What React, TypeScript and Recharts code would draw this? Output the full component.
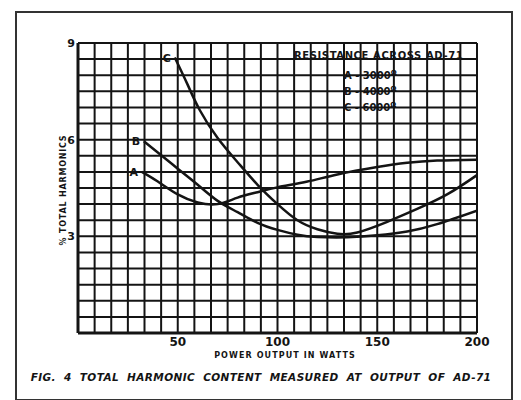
import { LineChart, Line, XAxis, YAxis, CartesianGrid } from 'recharts';

// curve A: 3000 ohm
const aWatts = [32, 40, 50, 60, 70, 80, 90, 100, 115, 130, 150, 165, 180, 200];
const aPct = [5.0, 4.7, 4.3, 4.05, 4.0, 4.2, 4.37, 4.52, 4.7, 4.92, 5.15, 5.28, 5.35, 5.38];

// curve B: 4000 ohm
const bWatts = [33, 40, 50, 60, 70, 80, 90, 100, 110, 120, 135, 150, 165, 180, 200];
const bPct = [5.95, 5.6, 5.1, 4.6, 4.1, 3.75, 3.42, 3.2, 3.05, 2.98, 2.97, 3.03, 3.15, 3.38, 3.8];

// curve C: 6000 ohm
const cWatts = [48.5, 55, 61, 70, 80, 90, 100, 110, 120, 130, 140, 155, 170, 185, 200];
const cPct = [8.55, 7.7, 6.92, 6.05, 5.3, 4.6, 4.0, 3.5, 3.22, 3.08, 3.12, 3.45, 3.85, 4.3, 4.9];

const xLabels = [50, 100, 150, 200];
const yLabels = [3, 6, 9];
const legendLines = ['A - 3000', 'B - 4000', 'C - 6000'];

// graph paper: 24 columns, 18 rows
const gridWatts = Array.from({ length: 25 }, (_, i) => (i * 200) / 24);
const gridPct = Array.from({ length: 19 }, (_, i) => i * 0.5);

const toPoints = (ws: number[], ps: number[]) => ws.map((w, i) => ({ w, pct: ps[i] }));

const ink = '#141414';
const font = '"DejaVu Sans", sans-serif';

const XTick = ({ x, y, payload }: any) =>
  xLabels.includes(payload.value) ? (
    <text x={x} y={y + 13} textAnchor="middle" fontSize={12} fontWeight="bold" fontFamily={font} fill={ink}>
      {payload.value}
    </text>
  ) : null;

const YTick = ({ x, y, payload }: any) =>
  yLabels.includes(payload.value) ? (
    <text x={x - 3} y={y + 4} textAnchor="end" fontSize={11} fontWeight="bold" fontFamily={font} fill={ink}>
      {payload.value}
    </text>
  ) : null;

const curveLabel = (name: string) => (props: any) =>
  props.index === 0 ? (
    <text x={props.x - 8} y={props.y + 4} textAnchor="middle" fontSize={11} fontWeight="bold" fontFamily={font} fill={ink}>
      {name}
    </text>
  ) : null;

export default function App() {
  return (
    <div style={{ position: 'absolute', left: 0, top: 0, width: 521, height: 400, background: '#fff', overflow: 'hidden' }}>
      {/* page frame */}
      <div style={{ position: 'absolute', left: 15, top: 11, width: 494, height: 386, border: '2px solid #333' }} />

      <LineChart width={521} height={400} data={[]} margin={{ top: 43, right: 44, left: 58, bottom: 37 }} style={{ position: 'absolute', left: 0, top: 0 }}>
        <CartesianGrid stroke={ink} strokeWidth={2} />
        <XAxis
          type="number"
          dataKey="w"
          domain={[0, 200]}
          ticks={gridWatts}
          interval={0}
          height={30}
          tickSize={0}
          tickMargin={0}
          tick={<XTick />}
          axisLine={{ stroke: ink, strokeWidth: 3 }}
          allowDataOverflow
        />
        <YAxis
          type="number"
          dataKey="pct"
          domain={[0, 9]}
          ticks={gridPct}
          interval={0}
          width={20}
          tickSize={0}
          tickMargin={0}
          tick={<YTick />}
          axisLine={{ stroke: ink, strokeWidth: 3 }}
          allowDataOverflow
        />
        <Line data={toPoints(aWatts, aPct)} dataKey="pct" type="natural" stroke={ink} strokeWidth={2.5} dot={false} isAnimationActive={false} label={curveLabel('A')} />
        <Line data={toPoints(bWatts, bPct)} dataKey="pct" type="natural" stroke={ink} strokeWidth={2.5} dot={false} isAnimationActive={false} label={curveLabel('B')} />
        <Line data={toPoints(cWatts, cPct)} dataKey="pct" type="natural" stroke={ink} strokeWidth={2.5} dot={false} isAnimationActive={false} label={curveLabel('C')} />
      </LineChart>

      {/* legend block */}
      <div style={{ position: 'absolute', left: 294, top: 50, fontFamily: font, fontWeight: 'bold', fontSize: 10, color: ink, letterSpacing: 0.6, lineHeight: '12px' }}>
        RESISTANCE ACROSS AD-71
      </div>
      {legendLines.map((t, i) => (
        <div key={t} style={{ position: 'absolute', left: 344, top: 67 + i * 16, fontFamily: font, fontWeight: 'bold', fontSize: 10, color: ink, lineHeight: '12px' }}>
          {t}
          <span style={{ fontSize: 7, verticalAlign: 'super' }}>Ω</span>
        </div>
      ))}

      {/* y axis title */}
      <div style={{ position: 'absolute', left: 63, top: 190, transform: 'translate(-50%, -50%) rotate(-90deg)', whiteSpace: 'nowrap', fontFamily: font, fontWeight: 'bold', fontSize: 8, color: ink, letterSpacing: 0.8 }}>
        % TOTAL HARMONICS
      </div>

      {/* x axis title */}
      <div style={{ position: 'absolute', left: 285, top: 355, transform: 'translate(-50%, -50%)', whiteSpace: 'nowrap', fontFamily: font, fontWeight: 'bold', fontSize: 8, color: ink, letterSpacing: 1.1 }}>
        POWER OUTPUT IN WATTS
      </div>

      {/* caption */}
      <div style={{ position: 'absolute', left: 261, top: 377, transform: 'translate(-50%, -50%)', whiteSpace: 'nowrap', fontFamily: font, fontWeight: 'bold', fontStyle: 'italic', fontSize: 10.5, color: ink, letterSpacing: 0.4, wordSpacing: 4 }}>
        FIG. 4 TOTAL HARMONIC CONTENT MEASURED AT OUTPUT OF AD-71
      </div>
    </div>
  );
}
